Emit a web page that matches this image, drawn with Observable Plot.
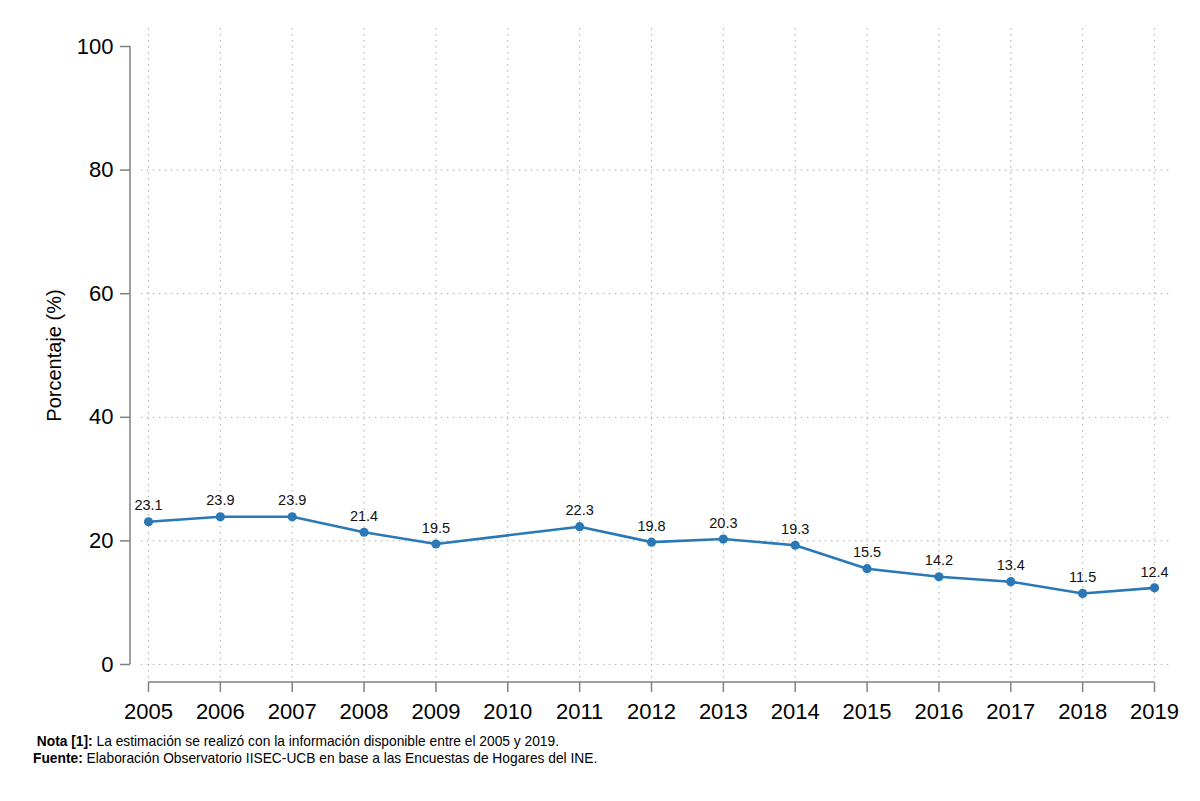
<!DOCTYPE html>
<html>
<head>
<meta charset="utf-8">
<script src="https://cdn.jsdelivr.net/npm/d3@7"></script>
<script src="https://cdn.jsdelivr.net/npm/@observablehq/plot@0.6"></script>
<style>
  html, body { margin: 0; padding: 0; background: #fff; }
  #wrap { position: relative; width: 1200px; height: 801px; font-family: "Liberation Sans Narrow", "Arial Narrow", "Liberation Sans", Arial, sans-serif; }
  #notes { position: absolute; left: 33px; top: 733px; font-size: 14.5px; line-height: 17px; color: #000; transform: scaleX(0.95); transform-origin: left top; white-space: nowrap; }
  #notes b { font-weight: bold; }
</style>
</head>
<body>
<div id="wrap">
  <div id="chart"></div>
  <div id="notes">
    <div style="padding-left:4px"><b>Nota [1]:</b> La estimación se realizó con la información disponible entre el 2005 y 2019.</div>
    <div><b>Fuente:</b> Elaboración Observatorio IISEC-UCB en base a las Encuestas de Hogares del INE.</div>
  </div>
</div>
<script>
const years = [2005, 2006, 2007, 2008, 2009, 2011, 2012, 2013, 2014, 2015, 2016, 2017, 2018, 2019];
const values = [23.1, 23.9, 23.9, 21.4, 19.5, 22.3, 19.8, 20.3, 19.3, 15.5, 14.2, 13.4, 11.5, 12.4];
const xTicks = [2005, 2006, 2007, 2008, 2009, 2010, 2011, 2012, 2013, 2014, 2015, 2016, 2017, 2018, 2019];
const yTicks = [0, 20, 40, 60, 80, 100];
const yGrid = [0, 20, 40, 60, 80];

const data = years.map((y, i) => ({year: y, value: values[i]}));
const lineColor = "#2a78b6";
const axisColor = "#808080";
const gridColor = "#b8b8b8";
const font = '"Liberation Sans Narrow", "Arial Narrow", "Liberation Sans", Arial, sans-serif';

const chart = Plot.plot({
  width: 1200,
  height: 730,
  marginLeft: 130,
  marginRight: 30,
  marginTop: 28,
  marginBottom: 48,
  style: {fontFamily: font, background: "#fff", color: "#000", overflow: "visible"},
  x: {domain: [2005, 2019], range: [148, 1154]},
  y: {domain: [0, 100], range: [664, 46]},
  marks: [
    Plot.ruleX(xTicks, {stroke: gridColor, strokeWidth: 1.2, strokeDasharray: "1.5,4.5"}),
    Plot.ruleY(yGrid, {stroke: gridColor, strokeWidth: 1.2, strokeDasharray: "1.5,4.5", x1: 2004.9, x2: 2019.22}),
    Plot.axisY({ticks: yTicks, tickSize: 10, tickPadding: 7, fontSize: 22, stroke: axisColor, strokeWidth: 1.5, tickFormat: d => String(d),
      label: "Porcentaje (%)", labelAnchor: "center", labelOffset: 84, labelArrow: "none"}),
    Plot.axisX({ticks: xTicks, tickSize: 10, tickPadding: 11, fontSize: 22, stroke: axisColor, strokeWidth: 1.5, tickFormat: d => String(d), label: null}),
    Plot.line(data, {x: "year", y: "value", stroke: lineColor, strokeWidth: 2.6}),
    Plot.dot(data, {x: "year", y: "value", fill: lineColor, r: 4.6}),
    Plot.text(data, {x: "year", y: "value", text: d => d.value.toFixed(1), dy: -16, fontSize: 14.5, fill: "#111"})
  ]
});
document.getElementById("chart").appendChild(chart);

// axis lines drawn with the plot's own scales
const sx = chart.scale("x"), sy = chart.scale("y");
const svg = d3.select(chart);
svg.append("line")
  .attr("x1", 130).attr("x2", 130)
  .attr("y1", sy.apply(0)).attr("y2", sy.apply(100))
  .attr("stroke", axisColor).attr("stroke-width", 1.5);
svg.append("line")
  .attr("x1", sx.apply(2005)).attr("x2", sx.apply(2019))
  .attr("y1", 682).attr("y2", 682)
  .attr("stroke", axisColor).attr("stroke-width", 1.5);
svg.selectAll("[aria-label='y-axis label'] text, [aria-label='y-axis label']").attr("font-size", 20);
</script>
</body>
</html>
